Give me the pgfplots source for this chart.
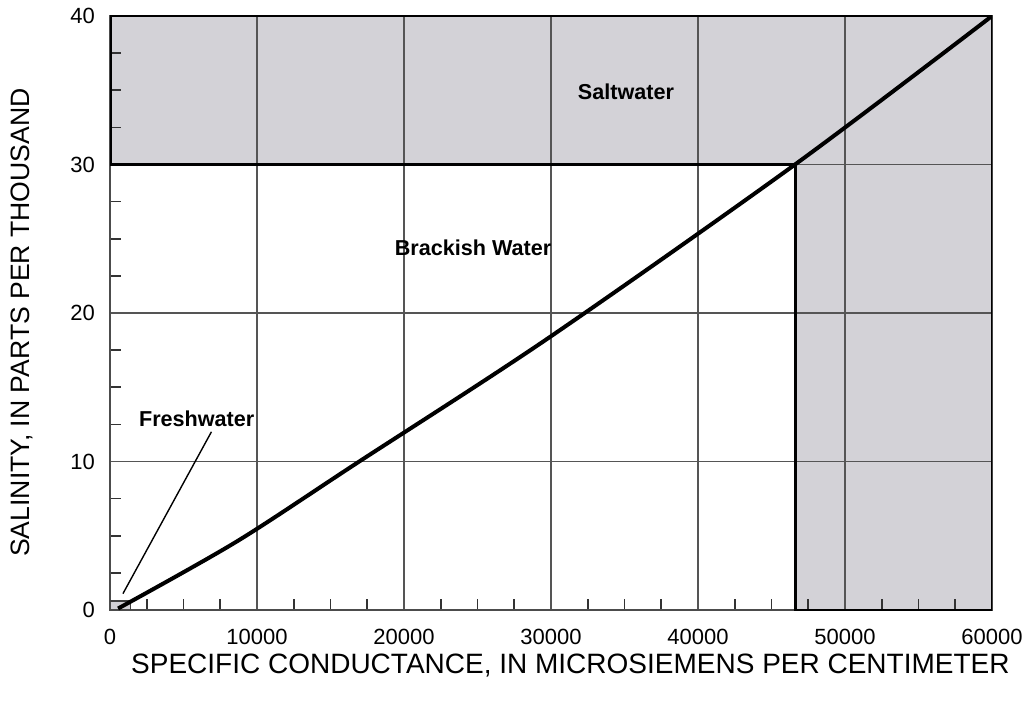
\documentclass[border=0pt]{standalone}
\usepackage{fontspec}
\setmainfont{Liberation Sans}
\usepackage{pgfplots}
\pgfplotsset{compat=1.18}

\definecolor{zone}{HTML}{D3D2D7}
\definecolor{gridc}{HTML}{555555}

\begin{document}
\begin{tikzpicture}
\begin{axis}[
  name=ax,
  scale only axis,
  width=441pt, height=297pt,
  xmin=0, xmax=60000, ymin=0, ymax=40,
  set layers=standard,
  xtick={0,10000,...,60000},
  ytick={0,10,...,40},
  scaled ticks=false,
  minor x tick num=3,
  minor y tick num=3,
  tick pos=left,
  tick align=inside,
  major tick length=0pt,
  minor tick length=5.5pt,
  minor tick style={draw=black!80, line width=0.8pt},
  grid=major,
  major grid style={draw=gridc, line width=0.8pt},
  axis line style={draw=black!70, line width=0.9pt},
  /pgf/number format/assume math mode=true,
  /pgf/number format/1000 sep={},
  ticklabel style={font=\fontsize{11}{13}\selectfont},
  xticklabel shift=6pt,
  yticklabel shift=4pt,
  xlabel={SPECIFIC CONDUCTANCE, IN MICROSIEMENS PER CENTIMETER},
  ylabel={SALINITY, IN PARTS PER THOUSAND},
  xlabel style={font=\fontsize{14}{16}\selectfont, at={(axis description cs:0.522,-0.0926)}, anchor=center},
  ylabel style={font=\fontsize{13.3}{16}\selectfont, at={(axis description cs:-0.0998,0.484)}, anchor=center},
]
% shaded zones (fill under the grid)
\addplot[fill=zone, draw=none, on layer=axis background] coordinates
  {(0,30) (46600,30) (46600,0) (60000,0) (60000,40) (0,40)} --cycle;
\addplot[fill=zone, draw=none, on layer=axis background] coordinates
  {(0,0) (1400,0) (1400,0.6) (0,0.6)} --cycle;
% zone outlines
\addplot[draw=black, line width=1.5pt] coordinates
  {(0,30) (46600,30) (46600,0) (60000,0) (60000,40) (0,40)} --cycle;
\addplot[draw=black!75, line width=0.8pt] coordinates
  {(0,0.6) (1400,0.6) (1400,0)};
% salinity curve
\addplot[black, line width=2pt, smooth] coordinates
  {(550,0.1) (8600,4.6) (16800,9.9) (29800,18.3) (46600,30.0) (60000,40.0)};
% freshwater leader
\addplot[black, line width=0.7pt] coordinates {(880,1.1) (6900,12.0)};
\node[font=\bfseries\fontsize{10.8}{13}\selectfont] at (axis cs:5900,12.9) {Freshwater};
\node[font=\bfseries\fontsize{10.8}{13}\selectfont] at (axis cs:24700,24.4) {Brackish Water};
\node[font=\bfseries\fontsize{10.8}{13}\selectfont] at (axis cs:35100,34.9) {Saltwater};
\end{axis}
\pgfresetboundingbox
\path[use as bounding box] ([xshift=-55pt,yshift=-45pt]ax.south west)
  rectangle ([xshift=15.5pt,yshift=8pt]ax.north east);
\end{tikzpicture}
\end{document}
